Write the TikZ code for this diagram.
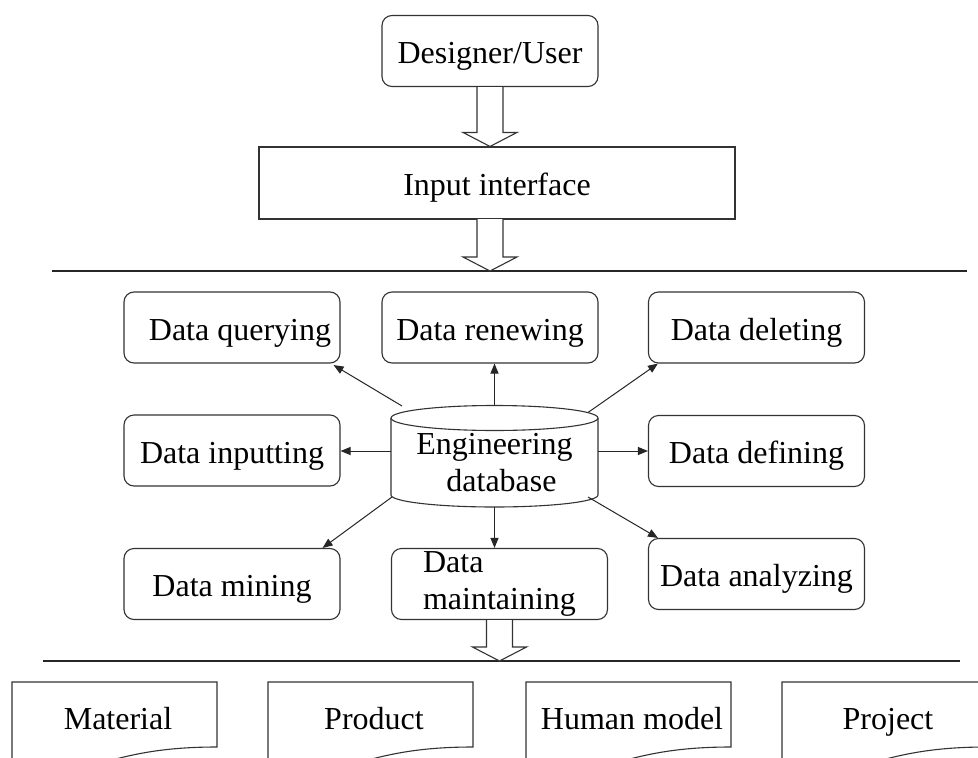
\documentclass[tikz,border=0pt]{standalone}
\usepackage{fontspec}
\setmainfont{Liberation Serif}
\usetikzlibrary{arrows.meta,calc}

% hollow block arrow pointing down: #1 start of the shaft, #2 the tip
\newcommand\fatdown[2]{%
  \draw[fatarrow] ($(#1)+(-13,0)$) -- ($(#2)+(-13,-14)$) -- ($(#2)+(-27,-14)$)
    -- (#2) -- ($(#2)+(27,-14)$) -- ($(#2)+(13,-14)$) -- ($(#1)+(13,0)$);}

\begin{document}
\begin{tikzpicture}[x=1pt,y=-1pt,
  font=\fontsize{32}{37}\selectfont,
  ln/.style={draw=black!80, line width=1.1pt},
  boxbase/.style={ln, rounded corners=10pt, minimum width=216pt,
    minimum height=71pt, inner sep=0pt},
  rbox/.style={boxbase, text height=32pt, text depth=7pt},
  sbox/.style={ln, minimum width=476pt, minimum height=72pt, inner sep=0pt,
    text height=32pt, text depth=7pt},
  link/.style={draw=black!85, line width=1pt,
    -{Triangle[length=10pt,width=8pt]}},
  fatarrow/.style={ln, fill=white},
  rule/.style={draw=black!85, line width=1.2pt}]

\fill[white] (0,0) rectangle (978,758);
\useasboundingbox (0,0) rectangle (978,758);

% user and input layer
\node[rbox] (user) at (490,51) {Designer/User};
\node[sbox] (input) at (497,183) {Input interface};

% separating rules
\coordinate (r1a) at (52,271);
\coordinate (r1b) at (967,271);
\coordinate (r2a) at (43,661);
\coordinate (r2b) at (960,661);
\draw[rule] (r1a) -- (r1b);
\draw[rule] (r2a) -- (r2b);

\coordinate (a2top) at (490,219);
\fatdown{user.south}{user.south |- input.north}
\fatdown{a2top}{a2top |- r1a}

% operation boxes
\node[rbox] (dquery)   at (232,327.5)   {\hspace*{16pt}Data querying};
\node[rbox] (drenew)   at (490,327.5)   {Data renewing};
\node[rbox] (ddelete)  at (756.5,327.5) {Data deleting};
\node[rbox] (dinput)   at (232,450.5)   {Data inputting};
\node[rbox] (ddefine)  at (756.5,451)   {Data defining};
\node[rbox] (dmine)    at (232,584)     {Data mining};
\node[boxbase, align=left] (dmaint) at (499.5,584) {Data\\maintaining};
\node[rbox] (danalyze) at (756.5,574)   {Data analyzing};

% engineering database cylinder
\draw[ln, fill=white] (391,418) -- (391,495)
  .. controls (391,501.6) and (437.4,507) .. (494.5,507)
  .. controls (551.6,507) and (598,501.6) .. (598,495) -- (598,418);
\draw[ln] (494.5,418) ellipse [x radius=103.5, y radius=12.5];
\node[align=center] (db) at (494.5,463) {Engineering\\\hspace*{14pt}database};

\coordinate (dbtop) at (494.5,405.5);
\coordinate (dbbot) at (494.5,507);
\coordinate (dbnw) at (402,406);
\coordinate (dbne) at (588,412.5);
\coordinate (dbsw) at (392,497);
\coordinate (dbse) at (588,497);
\coordinate (dbw) at (391,451);
\coordinate (dbe) at (598,451);

\draw[link] (dbnw) -- ($(dquery.south east)+(-7,1.5)$);
\draw[link] (dbtop) -- (dbtop |- drenew.south);
\draw[link] (dbne) -- ($(ddelete.south west)+(10,0)$);
\draw[link] (dbw) -- (dbw -| dinput.east);
\draw[link] (dbe) -- (dbe -| ddefine.west);
\draw[link] (dbsw) -- ($(dmine.north east)+(-18,0)$);
\draw[link] (dbbot) -- (dbbot |- dmaint.north);
\draw[link] (dbse) -- ($(danalyze.north west)+(10,0)$);

\fatdown{dmaint.south}{dmaint.south |- r2a}

% stored data documents
\begin{scope}
\clip (0,0) rectangle (978,758);
\foreach \xl/\nm/\txt in {12/mat/Material, 268/prod/Product,
    526/human/Human model, 782/proj/Project} {
  \draw[ln] (\xl,682) -- (\xl+205,682) -- (\xl+205,747)
    .. controls (\xl+160,747) and (\xl+130,752) .. (\xl+100,760)
    .. controls (\xl+60,771) and (\xl+30,772) .. (\xl,768) -- cycle;
  \node[anchor=base] (\nm) at (\xl+106,729) {\txt};
}
\end{scope}
\end{tikzpicture}
\end{document}
